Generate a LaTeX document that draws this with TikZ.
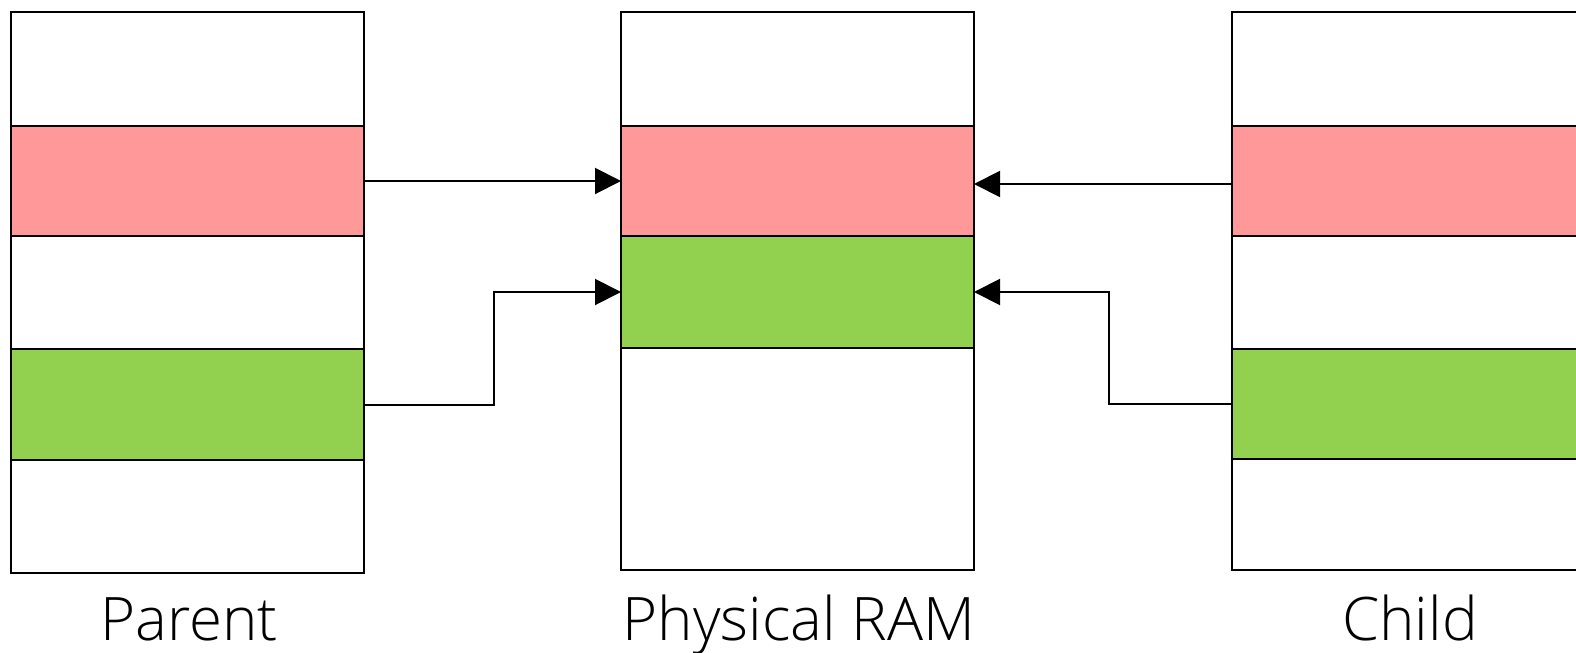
\documentclass[tikz,border=0pt]{standalone}
\usepackage{fontspec}
\setmainfont{Open Sans Light}
\usetikzlibrary{arrows.meta}
\definecolor{pagered}{HTML}{FF9999}
\definecolor{pagegreen}{HTML}{92D050}
\tikzset{
  band/.style={draw=black, line width=0.6pt, rectangle, anchor=north west,
    inner sep=0pt, outer sep=0pt, minimum width=176.5pt},
  redband/.style={band, fill=pagered},
  greenband/.style={band, fill=pagegreen},
  whiteband/.style={band, fill=white},
  link/.style={draw=black, line width=1pt,
    -{Triangle[length=13pt, width=13pt]}},
  caption/.style={anchor=base, inner sep=0pt, font=\fontsize{30}{36}\selectfont}
}
\begin{document}
\begin{tikzpicture}[x=0.5pt, y=-0.5pt]
  \clip (0,0) rectangle (1576,653);
  \fill[white] (0,0) rectangle (1576,653);

  % Parent address space
  \node[whiteband, minimum height=57pt]   (p1) at (11,12) {};
  \node[redband,   minimum height=55pt]   (p2) at (11,126) {};
  \node[whiteband, minimum height=56.5pt] (p3) at (11,236) {};
  \node[greenband, minimum height=55.5pt] (p4) at (11,349) {};
  \node[whiteband, minimum height=56.5pt] (p5) at (11,460) {};

  % Physical memory
  \node[whiteband, minimum height=57pt]   (r1) at (621,12) {};
  \node[redband,   minimum height=55pt]   (r2) at (621,126) {};
  \node[greenband, minimum height=56pt]   (r3) at (621,236) {};
  \node[whiteband, minimum height=111pt]  (r4) at (621,348) {};

  % Child address space
  \node[whiteband, minimum height=57pt]   (c1) at (1232,12) {};
  \node[redband,   minimum height=55pt]   (c2) at (1232,126) {};
  \node[whiteband, minimum height=56.5pt] (c3) at (1232,236) {};
  \node[greenband, minimum height=55pt]   (c4) at (1232,349) {};
  \node[whiteband, minimum height=55.5pt] (c5) at (1232,459) {};

  % Page mappings
  \draw[link] (p2.east) -- (r2.west);
  \draw[link] (p4.east) -- ++(130,0) |- (r3.west);
  \draw[link] ([yshift=-1.5pt]c2.west) -- ([yshift=-1.5pt]r2.east);
  \draw[link] (c4.west) -- ++(-123,0) |- (r3.east);

  % Captions
  \node[caption] (lp) at (189,640) {Parent};
  \node[caption] (lr) at (799,640) {Physical RAM};
  \node[caption] (lc) at (1410,640) {Child};
\end{tikzpicture}
\end{document}
